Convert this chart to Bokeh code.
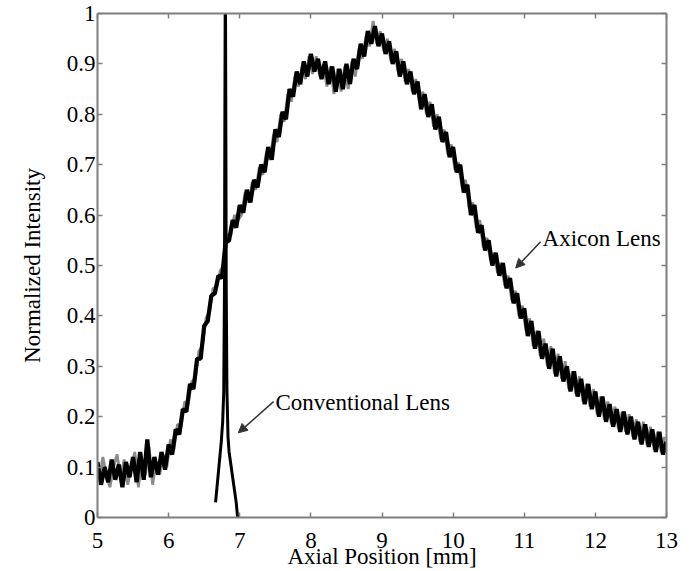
from bokeh.plotting import figure
from bokeh.models import (Range1d, FixedTicker, LinearAxis, CustomJSTickFormatter,
                          Arrow, NormalHead, Label)
from bokeh.embed import file_html
from bokeh.resources import INLINE

# ---- data ----
x_ticks = [5, 6, 7, 8, 9, 10, 11, 12, 13]
y_ticks = [0, 0.1, 0.2, 0.3, 0.4, 0.5, 0.6, 0.7, 0.8, 0.9, 1.0]

# axicon lens trace, samples at 5.00, 5.05, ..., 13.00
axicon_x = [round(5 + 0.05 * i, 3) for i in range(161)]
axicon_y = [
    0.11, 0.065, 0.10, 0.07, 0.115, 0.075, 0.105, 0.06, 0.11, 0.08,
    0.12, 0.07, 0.13, 0.075, 0.155, 0.08, 0.12, 0.085, 0.13, 0.095,
    0.145, 0.125, 0.175, 0.165, 0.215, 0.21, 0.265, 0.255, 0.315, 0.315,
    0.38, 0.39, 0.44, 0.445, 0.48, 0.475, 0.545, 0.55, 0.59, 0.575,
    0.62, 0.605, 0.65, 0.625, 0.67, 0.655, 0.70, 0.685, 0.735, 0.71,
    0.77, 0.755, 0.805, 0.79, 0.85, 0.835, 0.885, 0.86, 0.905, 0.875,
    0.92, 0.885, 0.91, 0.87, 0.905, 0.86, 0.895, 0.845, 0.89, 0.85,
    0.90, 0.86, 0.91, 0.89, 0.94, 0.915, 0.965, 0.94, 0.975, 0.935,
    0.96, 0.92, 0.945, 0.90, 0.925, 0.875, 0.905, 0.86, 0.885, 0.84,
    0.865, 0.81, 0.84, 0.795, 0.82, 0.77, 0.795, 0.745, 0.765, 0.715,
    0.735, 0.685, 0.70, 0.645, 0.66, 0.60, 0.62, 0.565, 0.58, 0.53,
    0.55, 0.50, 0.525, 0.48, 0.505, 0.455, 0.475, 0.425, 0.445, 0.395,
    0.415, 0.36, 0.39, 0.335, 0.37, 0.315, 0.345, 0.295, 0.335, 0.28,
    0.32, 0.27, 0.30, 0.25, 0.29, 0.24, 0.275, 0.225, 0.265, 0.215,
    0.25, 0.20, 0.24, 0.19, 0.225, 0.18, 0.215, 0.17, 0.21, 0.165,
    0.20, 0.155, 0.19, 0.145, 0.185, 0.14, 0.175, 0.13, 0.17, 0.125,
    0.15,
]

# second (grey) axicon trace, samples at 5.025, 5.075, ..., 12.975
axicon2_x = [round(5.025 + 0.05 * i, 3) for i in range(160)]
axicon2_y = [
    0.075, 0.12, 0.085, 0.06, 0.10, 0.125, 0.08, 0.115, 0.065, 0.10,
    0.13, 0.06, 0.115, 0.085, 0.14, 0.065, 0.11, 0.085, 0.125, 0.10,
    0.155, 0.135, 0.185, 0.18, 0.23, 0.225, 0.27, 0.275, 0.33, 0.34,
    0.395, 0.41, 0.455, 0.455, 0.49, 0.50, 0.56, 0.56, 0.60, 0.59,
    0.60, 0.645, 0.625, 0.665, 0.65, 0.695, 0.68, 0.725, 0.71, 0.76,
    0.745, 0.80, 0.785, 0.84, 0.825, 0.875, 0.855, 0.895, 0.87, 0.915,
    0.88, 0.915, 0.875, 0.90, 0.855, 0.895, 0.84, 0.89, 0.845, 0.895,
    0.85, 0.905, 0.875, 0.93, 0.91, 0.955, 0.935, 0.985, 0.94, 0.965,
    0.925, 0.95, 0.905, 0.93, 0.885, 0.91, 0.865, 0.89, 0.845, 0.87,
    0.825, 0.845, 0.80, 0.825, 0.775, 0.80, 0.75, 0.77, 0.72, 0.74,
    0.69, 0.705, 0.655, 0.67, 0.615, 0.625, 0.575, 0.59, 0.535, 0.555,
    0.51, 0.525, 0.485, 0.505, 0.46, 0.48, 0.43, 0.45, 0.40, 0.42,
    0.37, 0.395, 0.34, 0.37, 0.32, 0.355, 0.30, 0.34, 0.285, 0.325,
    0.275, 0.31, 0.255, 0.29, 0.245, 0.28, 0.23, 0.265, 0.22, 0.255,
    0.205, 0.24, 0.195, 0.23, 0.185, 0.22, 0.175, 0.21, 0.17, 0.205,
    0.16, 0.195, 0.15, 0.19, 0.145, 0.18, 0.135, 0.17, 0.13, 0.16,
]

# conventional lens trace
conv_x = [6.66, 6.68, 6.70, 6.72, 6.74, 6.76, 6.775, 6.785, 6.79, 6.795, 6.80,
          6.805, 6.81, 6.82, 6.835, 6.85, 6.87, 6.89, 6.91, 6.93, 6.95, 6.97]
conv_y = [0.03, 0.06, 0.09, 0.12, 0.15, 0.19, 0.25, 0.45, 0.75, 1.0, 1.0,
          0.75, 0.45, 0.25, 0.16, 0.13, 0.11, 0.09, 0.07, 0.05, 0.03, 0.0]

FONT = "Liberation Serif"
GRAY = "#7f7f7f"
FS = "23px"

p = figure(width=684, height=571, output_backend="svg", toolbar_location=None,
           x_range=Range1d(5, 13), y_range=Range1d(0, 1),
           min_border_left=97, min_border_right=18, min_border_top=13,
           min_border_bottom=53)
p.grid.visible = False
p.outline_line_color = None
p.background_fill_color = "white"
p.border_fill_color = "white"

p.line(axicon2_x, axicon2_y, line_color="#8c8c8c", line_width=2.8)
p.line(axicon_x, axicon_y, line_color="black", line_width=4.2)
p.line(conv_x, conv_y, line_color="black", line_width=3)

fmt = CustomJSTickFormatter(code="return String(Math.round(tick*10)/10);")

def style_axis(ax, labels=True):
    ax.axis_line_color = GRAY
    ax.axis_line_width = 2
    ax.major_tick_line_color = GRAY
    ax.major_tick_line_width = 1.5
    ax.major_tick_in = 5
    ax.major_tick_out = 0
    ax.minor_tick_line_color = None
    ax.major_label_text_font = FONT
    ax.major_label_text_font_size = FS if labels else "0px"
    ax.major_label_text_color = "black"
    ax.axis_label_text_font = FONT
    ax.axis_label_text_font_size = FS
    ax.axis_label_text_font_style = "normal"
    ax.axis_label_text_color = "black"

xa = p.xaxis[0]
xa.ticker = FixedTicker(ticks=x_ticks)
xa.axis_label = "Axial Position [mm]"
style_axis(xa)
xa.major_label_standoff = 15
xa.axis_label_standoff = -7

ya = p.yaxis[0]
ya.ticker = FixedTicker(ticks=y_ticks)
ya.formatter = fmt
ya.axis_label = "Normalized Intensity"
style_axis(ya)
ya.major_label_standoff = 2
ya.axis_label_standoff = 19

top = LinearAxis(ticker=FixedTicker(ticks=x_ticks))
style_axis(top, labels=False)
top.major_label_standoff = 0
p.add_layout(top, "above")
right = LinearAxis(ticker=FixedTicker(ticks=y_ticks))
style_axis(right, labels=False)
right.major_label_standoff = 0
p.add_layout(right, "right")

# annotations
p.add_layout(Label(x=7.503, y=0.228, text="Conventional Lens", text_font=FONT,
                   text_font_size=FS, text_color="black",
                   text_baseline="alphabetic"))
p.add_layout(Arrow(x_start=7.475, y_start=0.23, x_end=6.98, y_end=0.168,
                   line_color="#333333", line_width=1.5,
                   end=NormalHead(size=9, fill_color="#333333", line_color="#333333")))
p.add_layout(Label(x=11.257, y=0.554, text="Axicon Lens", text_font=FONT,
                   text_font_size=FS, text_color="black",
                   text_baseline="alphabetic"))
p.add_layout(Arrow(x_start=11.23, y_start=0.547, x_end=10.88, y_end=0.495,
                   line_color="#333333", line_width=1.5,
                   end=NormalHead(size=9, fill_color="#333333", line_color="#333333")))

open("out.html", "w").write(file_html(p, INLINE))
